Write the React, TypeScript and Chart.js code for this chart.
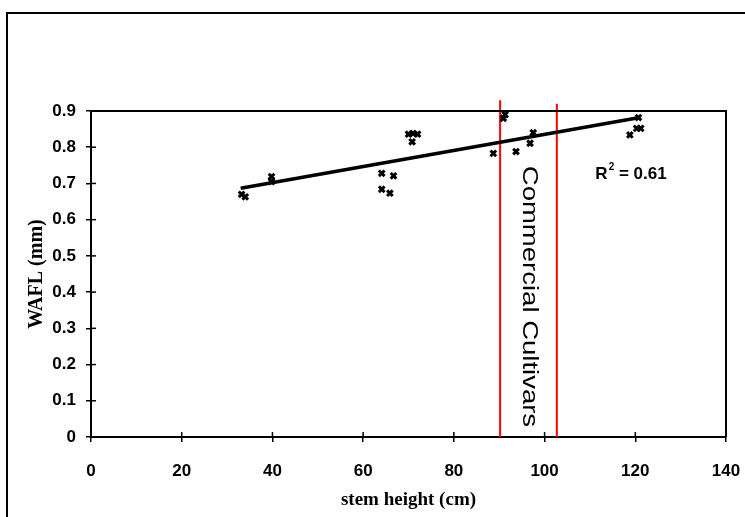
import React, { useEffect, useRef } from "react";
import { Chart, registerables } from "chart.js";

Chart.register(...registerables);

// Scatter data: stem height (cm) vs WAFL (mm)
const stemHeight = [33.2, 34.0, 39.8, 39.8, 64.1, 66.7, 64.1, 65.9, 70.0, 71.0, 72.0, 70.8, 91.3, 90.9, 88.7, 93.7, 96.8, 97.5, 120.7, 120.3, 121.2, 118.8];
const wafl = [0.670, 0.663, 0.719, 0.705, 0.728, 0.721, 0.684, 0.673, 0.836, 0.838, 0.836, 0.815, 0.890, 0.880, 0.783, 0.788, 0.811, 0.840, 0.882, 0.852, 0.852, 0.834];

// Linear trendline endpoints
const trendX = [33, 121];
const trendY = [0.687, 0.882];

// Commercial cultivar boundaries (vertical red lines)
const cultivarBounds = [90.2, 102.7];
const boundTops = [0.93, 0.92];

const xTicksMax = 140;
const yTicksMax = 0.9;
const rSquaredLabel = "0.61";
const regionLabel = "Commercial Cultivars";
const xTitle = "stem height (cm)";
const yTitle = "WAFL (mm)";

const decorPlugin = {
  id: "decor",
  beforeDraw(chart: any) {
    const ctx = chart.ctx;
    ctx.save();
    ctx.fillStyle = "#ffffff";
    ctx.fillRect(0, 0, chart.width, chart.height);
    ctx.strokeStyle = "#000000";
    ctx.lineWidth = 2;
    ctx.strokeRect(7, 13, chart.width + 50, chart.height + 50);
    ctx.restore();
  },
  afterDraw(chart: any) {
    const ctx = chart.ctx;
    const { left, right, top, bottom } = chart.chartArea;
    const xs = chart.scales.x;
    const ys = chart.scales.y;
    ctx.save();
    ctx.strokeStyle = "#000000";
    ctx.lineWidth = 2;
    // top & right frame
    ctx.beginPath();
    ctx.moveTo(left, top);
    ctx.lineTo(right, top);
    ctx.lineTo(right, bottom);
    ctx.stroke();
    // inward tick marks
    ctx.lineWidth = 1.5;
    xs.ticks.forEach((t: any) => {
      const px = xs.getPixelForValue(t.value);
      ctx.beginPath();
      ctx.moveTo(px, bottom);
      ctx.lineTo(px, bottom - 5);
      ctx.stroke();
    });
    ys.ticks.forEach((t: any) => {
      const py = ys.getPixelForValue(t.value);
      ctx.beginPath();
      ctx.moveTo(left, py);
      ctx.lineTo(left + 5, py);
      ctx.stroke();
    });

    // R^2 label
    const rx = xs.getPixelForValue(111.2);
    const ry = ys.getPixelForValue(0.724);
    ctx.fillStyle = "#000000";
    ctx.textBaseline = "middle";
    ctx.textAlign = "left";
    ctx.font = "bold 17px 'Liberation Sans', Arial, sans-serif";
    ctx.fillText("R", rx, ry);
    const wR = ctx.measureText("R").width;
    ctx.font = "bold 10px 'Liberation Sans', Arial, sans-serif";
    ctx.fillText("2", rx + wR + 1, ry - 8);
    const w2 = ctx.measureText("2").width;
    ctx.font = "bold 17px 'Liberation Sans', Arial, sans-serif";
    ctx.fillText(" = " + rSquaredLabel, rx + wR + w2 + 1, ry);

    // Commercial Cultivars label (rotated, reading downward)
    const cx = xs.getPixelForValue((cultivarBounds[0] + cultivarBounds[1]) / 2) + 1;
    const cy = ys.getPixelForValue(0.388);
    ctx.translate(cx, cy);
    ctx.rotate(Math.PI / 2);
    ctx.scale(1.25, 1);
    ctx.font = "22px 'Liberation Sans', Arial, sans-serif";
    ctx.textAlign = "center";
    ctx.textBaseline = "middle";
    ctx.fillText(regionLabel, 0, 0);
    ctx.restore();
  },
};

export default function App() {
  const ref = useRef<HTMLCanvasElement | null>(null);

  useEffect(() => {
    if (!ref.current) return;
    const points = stemHeight.map((x, i) => ({ x, y: wafl[i] }));
    const trend = trendX.map((x, i) => ({ x, y: trendY[i] }));
    const boundSets = cultivarBounds.map((b, i) => ({
      type: "line" as const,
      data: [
        { x: b, y: 0 },
        { x: b, y: boundTops[i] },
      ],
      borderColor: "#ff0000",
      borderWidth: 2,
      pointRadius: 0,
      showLine: true,
      clip: false as any,
      order: 3,
    }));

    const chart = new Chart(ref.current, {
      type: "scatter",
      data: {
        datasets: [
          ...boundSets,
          {
            type: "scatter" as const,
            data: points,
            pointStyle: "crossRot",
            pointRadius: 4,
            borderColor: "#000000",
            backgroundColor: "#000000",
            borderWidth: 3,
            order: 2,
          },
          {
            type: "line" as const,
            data: trend,
            borderColor: "#000000",
            borderWidth: 3.5,
            pointRadius: 0,
            showLine: true,
            order: 1,
          },
        ] as any,
      },
      options: {
        animation: false,
        responsive: false,
        layout: { padding: { top: 111, right: 19, left: 0, bottom: 0 } },
        plugins: {
          legend: { display: false },
          tooltip: { enabled: false },
        },
        scales: {
          x: {
            type: "linear",
            min: 0,
            max: xTicksMax,
            ticks: {
              stepSize: 20,
              color: "#000000",
              padding: 19,
              font: { family: "'Liberation Sans', Arial, sans-serif", weight: "bold", size: 17 },
            },
            grid: { display: true, drawOnChartArea: false, drawTicks: true, tickLength: 5, color: "#000000", lineWidth: 1.5 },
            border: { display: true, color: "#000000", width: 2 },
            title: {
              display: true,
              text: xTitle,
              color: "#000000",
              padding: { top: 2, bottom: 6 },
              font: { family: "'Liberation Serif', 'Times New Roman', serif", weight: "bold", size: 19 },
            },
            afterFit(scale: any) {
              scale.height = 80;
              scale.paddingLeft = 0;
              scale.paddingRight = 0;
            },
          },
          y: {
            type: "linear",
            min: 0,
            max: yTicksMax,
            ticks: {
              stepSize: 0.1,
              color: "#000000",
              padding: 10,
              font: { family: "'Liberation Sans', Arial, sans-serif", weight: "bold", size: 17 },
              callback: (v: any) => String(Number(Number(v).toFixed(1))),
            },
            grid: { display: true, drawOnChartArea: false, drawTicks: true, tickLength: 5, color: "#000000", lineWidth: 1.5 },
            border: { display: true, color: "#000000", width: 2 },
            title: {
              display: true,
              text: yTitle,
              color: "#000000",
              padding: { top: 25, bottom: 0 },
              font: { family: "'Liberation Serif', 'Times New Roman', serif", weight: "bold", size: 20 },
            },
            afterFit(scale: any) {
              scale.width = 91;
              scale.paddingTop = 0;
              scale.paddingBottom = 0;
            },
          },
        },
      },
      plugins: [decorPlugin],
    });
    return () => chart.destroy();
  }, []);

  return (
    <div style={{ position: "absolute", left: 0, top: 0, width: 745, height: 517 }}>
      <canvas ref={ref} width={745} height={517} style={{ width: 745, height: 517, display: "block" }} />
    </div>
  );
}
